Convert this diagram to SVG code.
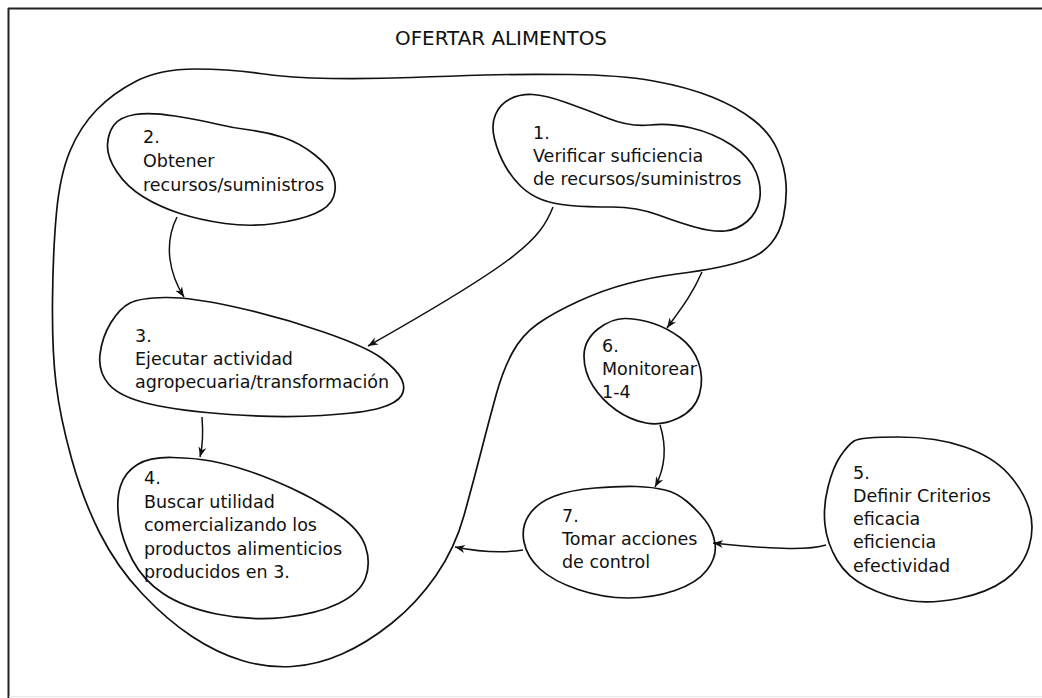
<svg xmlns="http://www.w3.org/2000/svg" width="1042" height="698" viewBox="0 0 1042 698">
<defs>
<style>
.shape{fill:none;stroke:#111;stroke-width:1.7;stroke-linejoin:round}
.conn{fill:none;stroke:#111;stroke-width:1.5}
text{font-family:"DejaVu Sans","Liberation Sans",sans-serif;font-size:17.5px;fill:#111}
.title{font-size:19.5px}
</style>
<marker id="arr" markerUnits="userSpaceOnUse" markerWidth="12" markerHeight="10" refX="10" refY="4" orient="auto" viewBox="0 0 12 8">
<path d="M0,0 L10,4 L0,8 L3,4 Z" fill="#111"/>
</marker>
</defs>
<rect x="0" y="0" width="1042" height="698" fill="#fff"/>
<g id="frame">
<line x1="8" y1="8.5" x2="1042" y2="8.5" stroke="#222" stroke-width="2"/>
<line x1="8.5" y1="8" x2="8.5" y2="698" stroke="#222" stroke-width="2"/>
<line x1="9" y1="696.5" x2="1042" y2="696.5" stroke="#e6e6e6" stroke-width="1"/>
</g>
<g id="title">
<text class="title" x="395" y="45" textLength="212" lengthAdjust="spacingAndGlyphs">OFERTAR ALIMENTOS</text>
</g>
<g id="boundary">
<path class="shape" d="M136.5,81 Q160,69 195,69 Q230,69 260,73.5 Q290,78 331.5,78.5 Q373,79 411.5,77.5 Q450,76 485,75 Q520,74 570,74.5 Q620,75 653.5,81 Q687,87 712,97 Q737,107 753.5,120 Q770,133 777.5,150 Q785,167 786,183.5 Q787,200 783.5,216.5 Q780,233 771,243.5 Q762,254 748.5,259 Q735,264 717.5,267.5 Q700,271 676.5,274 Q653,277 628,283.5 Q603,290 578,301.5 Q553,313 537.5,324 Q522,335 512.5,352.5 Q503,370 496.5,393.5 Q490,417 481.5,450 Q473,483 464,515.5 Q455,548 436,575.5 Q417,603 392,623 Q367,643 342,654 Q317,665 292,666.5 Q267,668 242,660.5 Q217,653 192,636.5 Q167,620 142,593.5 Q117,567 100,533.5 Q83,500 71.5,458.5 Q60,417 56,383.5 Q52,350 52.5,300 Q53,250 56.5,212.5 Q60,175 70,151 Q80,127 96.5,110 Q113,93 136.5,81 Z"/>
</g>
<g id="node1">
<path class="shape" d="M510,99 Q520,94 532.5,94.5 Q545,95 566,102.5 Q587,110 608.5,118.5 Q630,127 650,125 Q670,123 691.5,128 Q713,133 731.5,145 Q750,157 756,172 Q762,187 759.5,200 Q757,213 747,221.5 Q737,230 725,231 Q713,232 696.5,227.5 Q680,223 658.5,215 Q637,207 612,207 Q587,207 570,205.5 Q553,204 541.5,199.5 Q530,195 521,186.5 Q512,178 505,165.5 Q498,153 494.5,139 Q491,125 495.5,114.5 Q500,104 510,99 Z"/>
<text x="533" y="139">1.</text>
<text x="533" y="162">Verificar suficiencia</text>
<text x="533" y="185">de recursos/suministros</text>
</g>
<g id="node2">
<path class="shape" d="M135,114.5 Q150,112 175,116 Q200,120 216.5,124 Q233,128 250,130 Q267,132 283.5,137.5 Q300,143 315,155 Q330,167 333.5,177 Q337,187 333.5,197 Q330,207 315,213.5 Q300,220 275,223.5 Q250,227 225,223.5 Q200,220 180,213.5 Q160,207 143.5,197 Q127,187 117,172 Q107,157 107.5,145 Q108,133 114,125 Q120,117 135,114.5 Z"/>
<text x="143" y="143">2.</text>
<text x="143" y="167">Obtener</text>
<text x="143" y="191">recursos/suministros</text>
</g>
<g id="node3">
<path class="shape" d="M130,303 Q140,298 165,297.5 Q190,297 235,307 Q280,317 323.5,332 Q367,347 382,358.5 Q397,370 401.5,379 Q406,388 401.5,395.5 Q397,403 380,408 Q363,413 321.5,415.5 Q280,418 230,414.5 Q180,411 150,404 Q120,397 109,384.5 Q98,372 100,354.5 Q102,337 111,322.5 Q120,308 130,303 Z"/>
<text x="135" y="342">3.</text>
<text x="135" y="365">Ejecutar actividad</text>
<text x="135" y="388">agropecuaria/transformación</text>
</g>
<g id="node4">
<path class="shape" d="M211,461 Q195,458 172.5,457.5 Q150,457 137.5,464.5 Q125,472 120.5,486 Q116,500 119,520 Q122,540 132.5,560 Q143,580 163,593.5 Q183,607 216.5,614 Q250,621 283.5,617.5 Q317,614 338.5,603.5 Q360,593 365.5,578 Q371,563 365.5,546.5 Q360,530 338.5,515 Q317,500 292,488.5 Q267,477 247,470.5 Q227,464 211,461 Z"/>
<text x="144" y="484">4.</text>
<text x="144" y="507.5">Buscar utilidad</text>
<text x="144" y="531">comercializando los</text>
<text x="144" y="554.5">productos alimenticios</text>
<text x="144" y="578">producidos en 3.</text>
</g>
<g id="node5">
<path class="shape" d="M854,441 Q860,437 898.5,437 Q937,437 965,447 Q993,457 1008,473.5 Q1023,490 1029,508.5 Q1035,527 1029,547 Q1023,567 1005,580 Q987,593 958.5,598.5 Q930,604 908.5,600.5 Q887,597 867,587 Q847,577 837,560 Q827,543 825,525 Q823,507 828,487 Q833,467 840.5,456 Q848,445 854,441 Z"/>
<text x="853" y="479">5.</text>
<text x="853" y="502">Definir Criterios</text>
<text x="853" y="525">eficacia</text>
<text x="853" y="548">eficiencia</text>
<text x="853" y="572">efectividad</text>
</g>
<g id="node6">
<path class="shape" d="M598,329 Q612,318 626,318.5 Q640,319 653.5,323.5 Q667,328 680,337.5 Q693,347 698.5,362.5 Q704,378 699.5,394 Q695,410 678.5,418 Q662,426 646,423 Q630,420 616,410 Q602,400 593,386 Q584,372 584,356 Q584,340 598,329 Z"/>
<text x="602" y="352">6.</text>
<text x="602" y="375">Monitorear</text>
<text x="602" y="398">1-4</text>
</g>
<g id="node7">
<path class="shape" d="M636.5,486.5 Q653,487 665,490 Q677,493 687,501.5 Q697,510 705,520 Q713,530 715,543.5 Q717,557 707,570 Q697,583 675,590.5 Q653,598 628,598 Q603,598 578,589.5 Q553,581 540,569 Q527,557 524,542 Q521,527 529,515 Q537,503 553.5,496.5 Q570,490 595,488 Q620,486 636.5,486.5 Z"/>
<text x="562" y="522">7.</text>
<text x="562" y="545">Tomar acciones</text>
<text x="562" y="568">de control</text>
</g>
<g id="connectors">
<path class="conn" marker-end="url(#arr)" d="M177,217 C163,245 170,275 184,297"/>
<path class="conn" marker-end="url(#arr)" d="M553,207 C540,240 520,260 368,346"/>
<path class="conn" marker-end="url(#arr)" d="M202,417 C203,430 203,445 200,457"/>
<path class="conn" marker-end="url(#arr)" d="M702,272 C692,295 680,310 667,328"/>
<path class="conn" marker-end="url(#arr)" d="M660,425 C668,450 664,470 655,487"/>
<path class="conn" marker-end="url(#arr)" d="M826,545 C810,550 780,550 713,543"/>
<path class="conn" marker-end="url(#arr)" d="M523,550 C505,553 480,552 455,547"/>
</g>
</svg>
